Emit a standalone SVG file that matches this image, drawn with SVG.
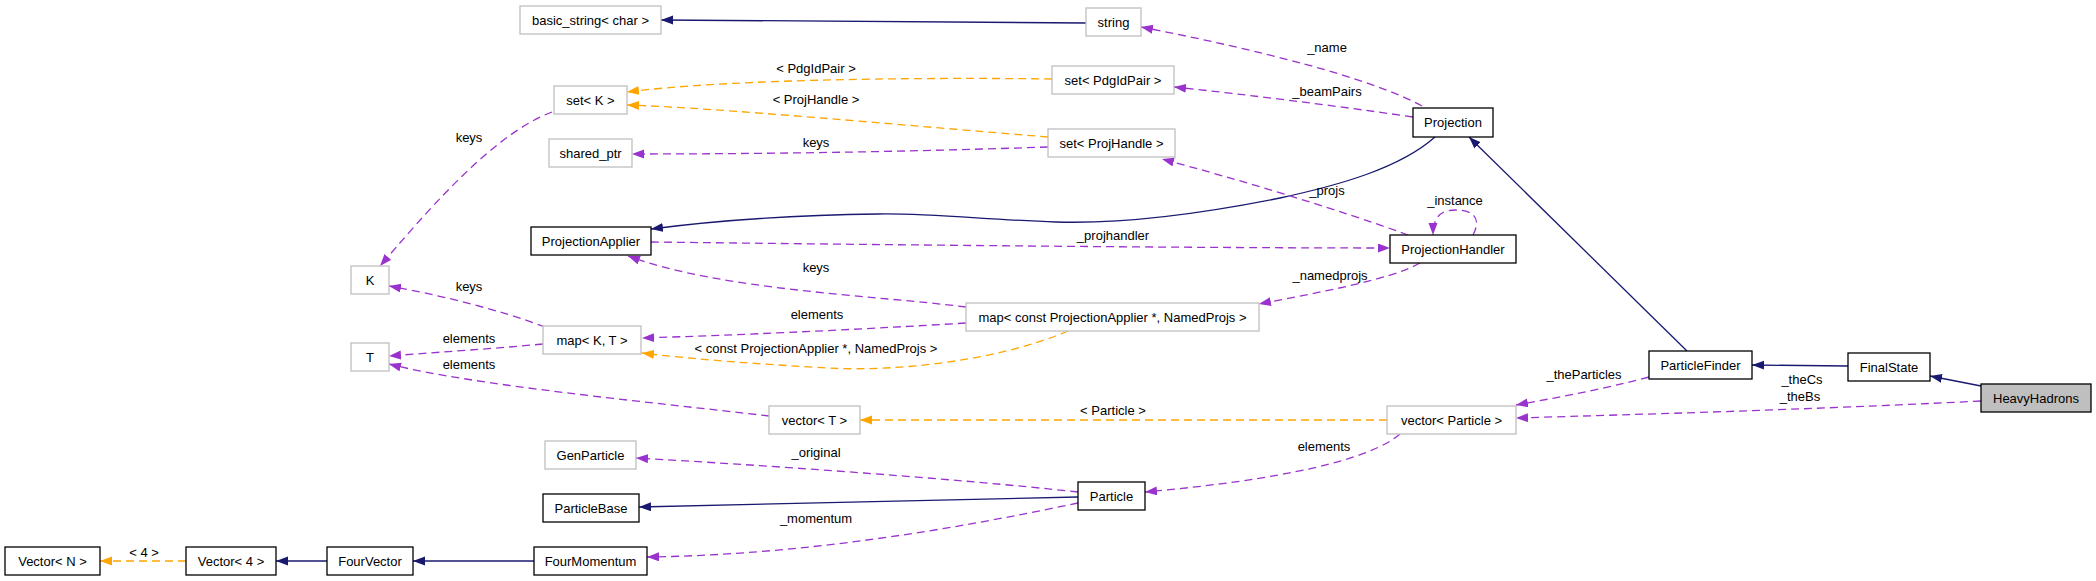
<svg xmlns="http://www.w3.org/2000/svg" width="2096" height="581" viewBox="0 0 2096 581">
<style>
text{font-family:"Liberation Sans",Arial,sans-serif;font-size:13px;fill:#000;text-anchor:middle}
.n rect{fill:#fff;stroke:#000;stroke-width:1.3}
.g rect{fill:#fff;stroke:#bfbfbf;stroke-width:1.3}
.h rect{fill:#bfbfbf;stroke:#000;stroke-width:1.3}
.e path{fill:none;stroke-width:1.3}
.inh{stroke:#191970;marker-end:url(#an)}
.use{stroke:#9a32cd;stroke-dasharray:8,5;marker-end:url(#ap)}
.tpl{stroke:#ffa500;stroke-dasharray:8,5;marker-end:url(#ao)}
</style>
<defs>
<marker id="an" markerUnits="userSpaceOnUse" markerWidth="13" markerHeight="10" refX="12" refY="4.5" orient="auto"><path d="M0,0L12,4.5L0,9z" fill="#191970"/></marker>
<marker id="ap" markerUnits="userSpaceOnUse" markerWidth="13" markerHeight="10" refX="12" refY="4.5" orient="auto"><path d="M0,0L12,4.5L0,9z" fill="#9a32cd"/></marker>
<marker id="ao" markerUnits="userSpaceOnUse" markerWidth="13" markerHeight="10" refX="12" refY="4.5" orient="auto"><path d="M0,0L12,4.5L0,9z" fill="#ffa500"/></marker>
</defs>
<rect width="2096" height="581" fill="#fff"/>
<g id="edges" class="e">
<path class="inh" d="M1086,23C900,22 760,20 661,20"/>
<path class="use" d="M1422,106C1370,78 1260,50 1141,27"/>
<path class="use" d="M1413,117C1330,105 1250,95 1174,87"/>
<path class="tpl" d="M1052,79C900,77 720,80 627,92"/>
<path class="tpl" d="M1048,137C900,125 720,108 627,105"/>
<path class="use" d="M1048,147C900,152 760,154 632,154"/>
<path class="use" d="M552,112C490,135 420,220 380,266"/>
<path class="inh" d="M1435,137C1400,168 1340,185 1280,198C1200,214 1120,224 1056,222C990,220 930,213 878,214C800,215 720,220 651,229"/>
<path class="use" d="M651,242C900,245 1200,248 1390,248"/>
<path class="use" d="M1408,235C1340,210 1240,180 1162,159"/>
<path class="use" d="M1473,235C1480,222 1478,210 1455,210C1440,210 1433,218 1433,235"/>
<path class="use" d="M1420,263C1390,280 1320,292 1259,304"/>
<path class="use" d="M966,307C870,295 720,290 628,256"/>
<path class="use" d="M966,323C850,330 740,335 642,338"/>
<path class="tpl" d="M1068,331C1000,360 900,372 827,368C760,364 700,360 642,353"/>
<path class="use" d="M545,327C500,310 440,295 389,286"/>
<path class="use" d="M543,344C490,349 440,352 389,356"/>
<path class="use" d="M769,416C650,402 470,385 389,364"/>
<path class="tpl" d="M1387,420L860,420"/>
<path class="use" d="M1078,492C950,478 760,465 636,458"/>
<path class="inh" d="M1078,497C900,500 750,505 639,507"/>
<path class="use" d="M1078,503C950,530 800,555 647,557"/>
<path class="use" d="M1400,434C1370,460 1280,480 1145,492"/>
<path class="inh" d="M534,561L413,561"/>
<path class="inh" d="M327,561L276,561"/>
<path class="tpl" d="M186,561L100,561"/>
<path class="inh" d="M1687,351L1469,137"/>
<path class="use" d="M1649,377C1600,390 1560,397 1516,405"/>
<path class="inh" d="M1848,366L1752,365"/>
<path class="inh" d="M1981,386L1930,376"/>
<path class="use" d="M1981,401C1800,410 1650,414 1516,418"/>
</g>
<g id="edge-labels">
<text x="1327" y="52">_name</text>
<text x="1327" y="96">_beamPairs</text>
<text x="816" y="73">&lt; PdgIdPair &gt;</text>
<text x="816" y="104">&lt; ProjHandle &gt;</text>
<text x="816" y="147">keys</text>
<text x="469" y="142">keys</text>
<text x="1327" y="195">_projs</text>
<text x="1455" y="205">_instance</text>
<text x="1113" y="240">_projhandler</text>
<text x="816" y="272">keys</text>
<text x="1330" y="280">_namedprojs</text>
<text x="469" y="291">keys</text>
<text x="817" y="319">elements</text>
<text x="469" y="343">elements</text>
<text x="816" y="353">&lt; const ProjectionApplier *, NamedProjs &gt;</text>
<text x="469" y="369">elements</text>
<text x="1584" y="379">_theParticles</text>
<text x="1802" y="384">_theCs</text>
<text x="1800" y="401">_theBs</text>
<text x="1113" y="415">&lt; Particle &gt;</text>
<text x="1324" y="451">elements</text>
<text x="816" y="457">_original</text>
<text x="816" y="523">_momentum</text>
<text x="144" y="557">&lt; 4 &gt;</text>
</g>
<g id="n-basic_string" class="g"><rect x="520" y="6" width="141" height="28"/><text x="590.5" y="24.5">basic_string&lt; char &gt;</text></g>
<g id="n-string" class="g"><rect x="1086" y="8" width="55" height="28"/><text x="1113.5" y="26.5">string</text></g>
<g id="n-setK" class="g"><rect x="554" y="86" width="73" height="28"/><text x="590.5" y="104.5">set&lt; K &gt;</text></g>
<g id="n-shared_ptr" class="g"><rect x="549" y="139" width="83" height="28"/><text x="590.5" y="157.5">shared_ptr</text></g>
<g id="n-ProjectionApplier" class="n"><rect x="531" y="227" width="120" height="28"/><text x="591" y="245.5">ProjectionApplier</text></g>
<g id="n-K" class="g"><rect x="351" y="266" width="38" height="28"/><text x="370" y="284.5">K</text></g>
<g id="n-setPdgIdPair" class="g"><rect x="1052" y="66" width="122" height="28"/><text x="1113" y="84.5">set&lt; PdgIdPair &gt;</text></g>
<g id="n-setProjHandle" class="g"><rect x="1048" y="129" width="127" height="28"/><text x="1111.5" y="147.5">set&lt; ProjHandle &gt;</text></g>
<g id="n-Projection" class="n"><rect x="1413" y="108" width="80" height="29"/><text x="1453" y="127">Projection</text></g>
<g id="n-ProjectionHandler" class="n"><rect x="1390" y="235" width="126" height="28"/><text x="1453" y="253.5">ProjectionHandler</text></g>
<g id="n-mapKT" class="g"><rect x="543" y="326" width="98" height="28"/><text x="592" y="344.5">map&lt; K, T &gt;</text></g>
<g id="n-T" class="g"><rect x="351" y="343" width="38" height="28"/><text x="370" y="361.5">T</text></g>
<g id="n-mapNamedProjs" class="g"><rect x="966" y="303" width="293" height="28"/><text x="1112.5" y="321.5">map&lt; const ProjectionApplier *, NamedProjs &gt;</text></g>
<g id="n-vectorT" class="g"><rect x="769" y="406" width="91" height="28"/><text x="814.5" y="424.5">vector&lt; T &gt;</text></g>
<g id="n-vectorParticle" class="g"><rect x="1387" y="406" width="129" height="28"/><text x="1451.5" y="424.5">vector&lt; Particle &gt;</text></g>
<g id="n-GenParticle" class="g"><rect x="545" y="441" width="91" height="28"/><text x="590.5" y="459.5">GenParticle</text></g>
<g id="n-ParticleBase" class="n"><rect x="543" y="494" width="96" height="28"/><text x="591" y="512.5">ParticleBase</text></g>
<g id="n-Particle" class="n"><rect x="1078" y="482" width="67" height="28"/><text x="1111.5" y="500.5">Particle</text></g>
<g id="n-VectorN" class="n"><rect x="5" y="547" width="95" height="28"/><text x="52.5" y="565.5">Vector&lt; N &gt;</text></g>
<g id="n-Vector4" class="n"><rect x="186" y="547" width="90" height="28"/><text x="231" y="565.5">Vector&lt; 4 &gt;</text></g>
<g id="n-FourVector" class="n"><rect x="327" y="547" width="86" height="28"/><text x="370" y="565.5">FourVector</text></g>
<g id="n-FourMomentum" class="n"><rect x="534" y="547" width="113" height="28"/><text x="590.5" y="565.5">FourMomentum</text></g>
<g id="n-ParticleFinder" class="n"><rect x="1649" y="351" width="103" height="28"/><text x="1700.5" y="369.5">ParticleFinder</text></g>
<g id="n-FinalState" class="n"><rect x="1848" y="353" width="82" height="28"/><text x="1889" y="371.5">FinalState</text></g>
<g id="n-HeavyHadrons" class="h"><rect x="1981" y="384" width="110" height="28"/><text x="2036" y="402.5">HeavyHadrons</text></g>
</svg>
